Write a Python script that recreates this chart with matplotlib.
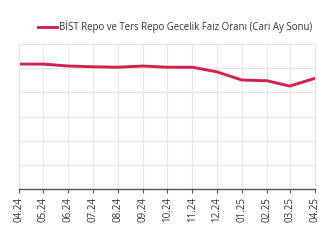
import datetime as dt
import matplotlib
matplotlib.use("Agg")
from matplotlib import pyplot as plt
import matplotlib.dates as mdates

plt.rcParams["font.family"] = ["Open Sans", "DejaVu Sans"]

months = ["2024-04", "2024-05", "2024-06", "2024-07", "2024-08", "2024-09", "2024-10",
          "2024-11", "2024-12", "2025-01", "2025-02", "2025-03", "2025-04"]
rates = [51.7, 51.7, 50.9, 50.6, 50.4, 50.9, 50.4, 50.4, 48.5, 45.1, 44.8, 42.6, 45.8]
label = "BİST Repo ve Ters Repo Gecelik Faiz Oranı (Cari Ay Sonu)"

dates = [dt.datetime.strptime(m, "%Y-%m") for m in months]

fig = plt.figure(figsize=(3.19, 2.46), dpi=100)
ax = fig.add_axes([0.0596, 0.2317, 0.9274, 0.5893])

line, = ax.plot(dates, rates, color="#d0234a", linewidth=2.1, label=label)

ax.set_xlim(dates[0], dates[-1])
ax.set_ylim(0, 60)
ax.set_yticks(range(0, 61, 10))
ax.set_xticks(dates)
ax.xaxis.set_major_formatter(mdates.DateFormatter("%m.%y"))
ax.tick_params(axis="x", labelrotation=90, labelsize=7, length=3, color="#555555",
               labelcolor="#333333", pad=2.5)
ax.tick_params(axis="y", left=False, labelleft=False)

ax.grid(True, color="#e6e6e6", linewidth=0.8)
for side in ["top", "left", "right"]:
    ax.spines[side].set_color("#e6e6e6")
ax.spines["bottom"].set_color("#555555")
ax.spines["bottom"].set_linewidth(1.0)

fig.legend(handles=[line], loc="center left", bbox_to_anchor=(0.108, 0.89),
           frameon=False, fontsize=6.9, handlelength=2.0, handletextpad=0.2,
           borderaxespad=0, labelcolor="#333333")

fig.savefig("out.png", dpi=100)
